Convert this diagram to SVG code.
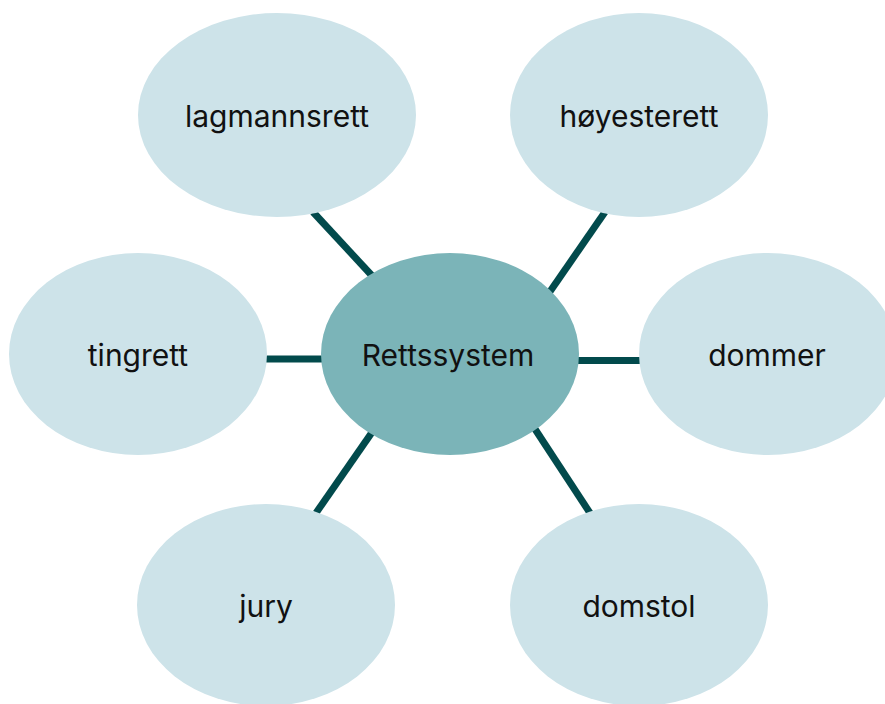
<svg xmlns="http://www.w3.org/2000/svg" width="885" height="704" viewBox="0 0 885 704">
  <style>
    .leaf { fill: #cde3e9; }
    .hub { fill: #7bb4b8; }
    .link { stroke: #024a4c; stroke-width: 7; stroke-linecap: butt; fill: none; }
    .label { font-family: Inter, "Liberation Sans", sans-serif; font-size: 30px; fill: #111111; text-anchor: middle; dominant-baseline: central; }
  </style>
  <rect width="885" height="704" fill="#ffffff"/>
  <g id="connectors">
    <line class="link" x1="313" y1="212" x2="376" y2="280"/>
    <line class="link" x1="605" y1="212" x2="549" y2="293"/>
    <line class="link" x1="260" y1="359" x2="328" y2="359"/>
    <line class="link" x1="573" y1="360.5" x2="645" y2="360.5"/>
    <line class="link" x1="375" y1="428" x2="316" y2="513"/>
    <line class="link" x1="533" y1="426" x2="590" y2="513"/>
  </g>
  <g id="node-lagmannsrett">
    <ellipse class="leaf" cx="277" cy="115" rx="139" ry="102"/>
    <text class="label" x="277" y="116">lagmannsrett</text>
  </g>
  <g id="node-hoyesterett">
    <ellipse class="leaf" cx="639" cy="115" rx="129" ry="102"/>
    <text class="label" x="639" y="116">høyesterett</text>
  </g>
  <g id="node-tingrett">
    <ellipse class="leaf" cx="138" cy="354" rx="129" ry="101"/>
    <text class="label" x="138" y="355">tingrett</text>
  </g>
  <g id="node-dommer">
    <ellipse class="leaf" cx="768" cy="354" rx="129" ry="101"/>
    <text class="label" x="767" y="355">dommer</text>
  </g>
  <g id="node-jury">
    <ellipse class="leaf" cx="266" cy="605" rx="129" ry="101"/>
    <text class="label" x="266" y="606">jury</text>
  </g>
  <g id="node-domstol">
    <ellipse class="leaf" cx="639" cy="605" rx="129" ry="101"/>
    <text class="label" x="639" y="606">domstol</text>
  </g>
  <g id="node-rettssystem">
    <ellipse class="hub" cx="450" cy="354" rx="129" ry="101"/>
    <text class="label" x="448" y="355">Rettssystem</text>
  </g>
</svg>
